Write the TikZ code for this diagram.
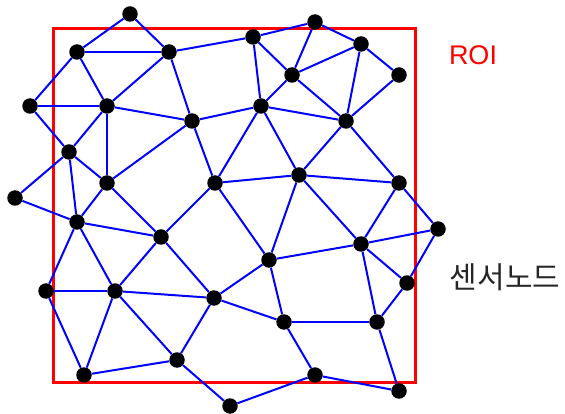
\documentclass[tikz,border=0pt]{standalone}
\usepackage{fontspec}
\setmainfont{Liberation Sans}
\newfontfamily\kr{Noto Sans CJK KR}
\begin{document}
\begin{tikzpicture}[x=1pt,y=-1pt,
  sensor/.style={circle,fill=black,inner sep=0pt,minimum size=15.5pt},
  link/.style={draw=blue,line width=2pt},
  roi/.style={draw=red,line width=3pt}]
\useasboundingbox (0,0) rectangle (565,414);
\draw[roi] (53,29) rectangle (415,382);
\foreach \n/\x/\y in {1/130/14,2/77/52,3/169/52,4/30/106,5/107/106,6/192/121,7/69/152,8/107/183,9/15/198,10/77/222,11/161/237,12/46/291,13/115/291,14/214/298,15/84/375,16/177/360,17/230/406,18/253/37,19/315/22,20/361/44,21/399/75,22/292/75,23/261/106,24/346/121,25/215/183,26/299/175,27/399/183,28/438/229,29/361/244,30/269/260,31/407/283,32/284/322,33/377/322,34/315/375,35/399/391}
  \node[sensor] (n\n) at (\x,\y) {};
\foreach \a/\b in {1/2,1/3,2/3,2/4,2/5,3/5,3/6,3/18,4/5,4/7,5/7,5/8,5/6,6/8,6/23,6/25,7/8,7/9,7/10,8/10,8/11,9/10,10/11,10/12,10/13,11/13,11/14,11/25,12/13,12/15,13/15,13/14,13/16,14/16,15/16,16/17,14/30,14/32,25/30,26/30,30/29,30/32,26/29,27/29,27/28,29/28,29/31,29/33,31/28,31/33,32/33,32/34,33/35,34/35,34/17,18/19,18/22,18/23,19/22,19/20,22/20,20/24,20/21,21/24,22/23,22/24,23/24,23/25,23/26,24/26,24/27,25/26,26/27}
  \draw[link] (n\a) -- (n\b);
\node[text=red,font=\fontsize{27}{30}\selectfont] (roilabel) at (473,55) {ROI};
\node[text=black!85,font=\kr\fontsize{30}{33}\selectfont] (sensorlabel) at (505,277) {센서노드};
\end{tikzpicture}
\end{document}
